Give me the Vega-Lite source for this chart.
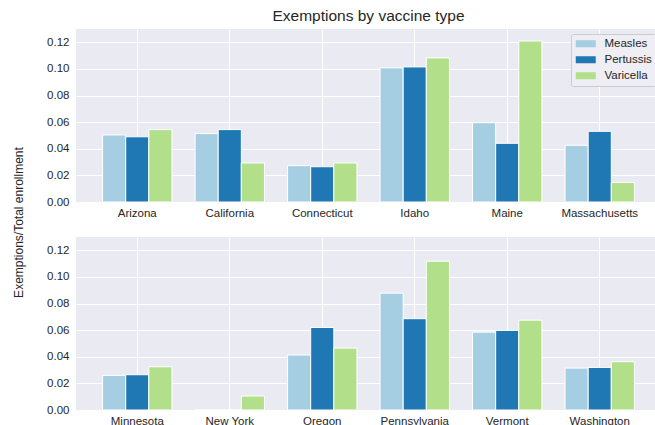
{
  "$schema": "https://vega.github.io/schema/vega-lite/v6.json",
  "background": "white",
  "padding": {"left": 12, "top": 8, "right": 0, "bottom": 0},
  "bounds": "flush",
  "spacing": 35,
  "datasets": {
    "top": [
      {"state": "Arizona", "vaccine": "Measles", "value": 0.0504},
      {"state": "Arizona", "vaccine": "Pertussis", "value": 0.0490},
      {"state": "Arizona", "vaccine": "Varicella", "value": 0.0544},
      {"state": "California", "vaccine": "Measles", "value": 0.0514},
      {"state": "California", "vaccine": "Pertussis", "value": 0.0544},
      {"state": "California", "vaccine": "Varicella", "value": 0.0293},
      {"state": "Connecticut", "vaccine": "Measles", "value": 0.0273},
      {"state": "Connecticut", "vaccine": "Pertussis", "value": 0.0265},
      {"state": "Connecticut", "vaccine": "Varicella", "value": 0.0293},
      {"state": "Idaho", "vaccine": "Measles", "value": 0.1008},
      {"state": "Idaho", "vaccine": "Pertussis", "value": 0.1015},
      {"state": "Idaho", "vaccine": "Varicella", "value": 0.1083},
      {"state": "Maine", "vaccine": "Measles", "value": 0.0596},
      {"state": "Maine", "vaccine": "Pertussis", "value": 0.0441},
      {"state": "Maine", "vaccine": "Varicella", "value": 0.1210},
      {"state": "Massachusetts", "vaccine": "Measles", "value": 0.0426},
      {"state": "Massachusetts", "vaccine": "Pertussis", "value": 0.0531},
      {"state": "Massachusetts", "vaccine": "Varicella", "value": 0.0147}
    ],
    "bottom": [
      {"state": "Minnesota", "vaccine": "Measles", "value": 0.0260},
      {"state": "Minnesota", "vaccine": "Pertussis", "value": 0.0265},
      {"state": "Minnesota", "vaccine": "Varicella", "value": 0.0325},
      {"state": "New York", "vaccine": "Measles", "value": 0.0},
      {"state": "New York", "vaccine": "Pertussis", "value": 0.0},
      {"state": "New York", "vaccine": "Varicella", "value": 0.0105},
      {"state": "Oregon", "vaccine": "Measles", "value": 0.0413},
      {"state": "Oregon", "vaccine": "Pertussis", "value": 0.0620},
      {"state": "Oregon", "vaccine": "Varicella", "value": 0.0465},
      {"state": "Pennsylvania", "vaccine": "Measles", "value": 0.0878},
      {"state": "Pennsylvania", "vaccine": "Pertussis", "value": 0.0686},
      {"state": "Pennsylvania", "vaccine": "Varicella", "value": 0.1118},
      {"state": "Vermont", "vaccine": "Measles", "value": 0.0585},
      {"state": "Vermont", "vaccine": "Pertussis", "value": 0.0598},
      {"state": "Vermont", "vaccine": "Varicella", "value": 0.0675},
      {"state": "Washington", "vaccine": "Measles", "value": 0.0315},
      {"state": "Washington", "vaccine": "Pertussis", "value": 0.0320},
      {"state": "Washington", "vaccine": "Varicella", "value": 0.0363}
    ]
  },
  "resolve": {"scale": {"x": "independent", "xOffset": "independent", "y": "shared", "color": "shared"}, "legend": {"color": "independent"}},
  "vconcat": [
    {
      "title": {"text": "Exemptions by vaccine type", "fontSize": 15.5, "font": "Liberation Sans", "fontWeight": "normal", "color": "#262626", "anchor": "middle", "frame": "group", "offset": 5},
      "data": {"name": "top"},
      "width": 585,
      "height": 173,
      "mark": {"type": "bar", "stroke": "white", "strokeWidth": 1},
      "encoding": {
        "x": {"field": "state", "type": "nominal", "sort": null,
              "scale": {"paddingInner": 0, "paddingOuter": 0.1625},
              "axis": {"title": null, "labelAngle": 0, "bandPosition": 0.5, "grid": true, "ticks": false, "domain": false, "labelPadding": 5}},
        "xOffset": {"field": "vaccine", "type": "nominal", "scale": {"paddingInner": 0, "paddingOuter": 0.5}},
        "y": {"field": "value", "type": "quantitative",
              "scale": {"domain": [0, 0.13], "nice": false},
              "axis": {"title": "Exemptions/Total enrollment", "titleY": 193, "values": [0, 0.02, 0.04, 0.06, 0.08, 0.1, 0.12], "format": ".2f", "grid": true, "ticks": false, "domain": false, "labelPadding": 7, "titlePadding": 21}},
        "color": {"field": "vaccine", "type": "nominal",
                  "scale": {"domain": ["Measles", "Pertussis", "Varicella"], "range": ["#a6cee3", "#1f78b4", "#b2df8a"]},
                  "legend": {"title": null, "orient": "top-right", "offset": 5}}
      }
    },
    {
      "data": {"name": "bottom"},
      "width": 585,
      "height": 173,
      "mark": {"type": "bar", "stroke": "white", "strokeWidth": 1},
      "encoding": {
        "x": {"field": "state", "type": "nominal", "sort": null,
              "scale": {"paddingInner": 0, "paddingOuter": 0.1625},
              "axis": {"title": null, "labelAngle": 0, "bandPosition": 0.5, "grid": true, "ticks": false, "domain": false, "labelPadding": 5}},
        "xOffset": {"field": "vaccine", "type": "nominal", "scale": {"paddingInner": 0, "paddingOuter": 0.5}},
        "y": {"field": "value", "type": "quantitative",
              "scale": {"domain": [0, 0.13], "nice": false},
              "axis": {"title": null, "values": [0, 0.02, 0.04, 0.06, 0.08, 0.1, 0.12], "format": ".2f", "grid": true, "ticks": false, "domain": false, "labelPadding": 7}},
        "color": {"field": "vaccine", "type": "nominal",
                  "scale": {"domain": ["Measles", "Pertussis", "Varicella"], "range": ["#a6cee3", "#1f78b4", "#b2df8a"]},
                  "legend": null}
      }
    }
  ],
  "config": {
    "view": {"fill": "#EAEAF2", "stroke": null},
    "font": "Liberation Sans",
    "axis": {"gridColor": "white", "gridWidth": 1, "gridOpacity": 1, "labelFont": "Liberation Sans", "labelFontSize": 11.5, "labelColor": "#262626", "titleFont": "Liberation Sans", "titleFontSize": 12, "titleFontWeight": "normal", "titleColor": "#262626"},
    "legend": {"labelFont": "Liberation Sans", "labelFontSize": 11.5, "labelColor": "#262626", "fillColor": "#EEEEF4", "strokeColor": "#CCCCCC", "padding": 4, "cornerRadius": 2, "symbolType": "M-1,-0.7L3,-0.7L3,0.7L-1,0.7Z", "symbolSize": 100, "symbolStrokeWidth": 0, "labelOffset": 18, "rowPadding": 3}
  }
}
